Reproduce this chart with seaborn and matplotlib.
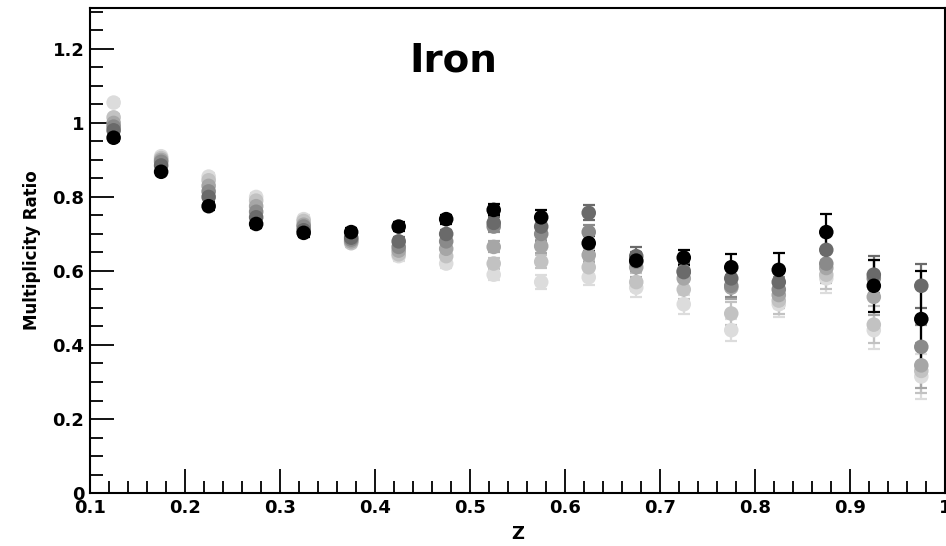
import numpy as np
import pandas as pd
import matplotlib
matplotlib.use("Agg")
import matplotlib.pyplot as plt
import seaborn as sns
from matplotlib.ticker import MultipleLocator, FixedLocator

z = [0.125, 0.175, 0.225, 0.275, 0.325, 0.375, 0.425, 0.475, 0.525,
     0.575, 0.625, 0.675, 0.725, 0.775, 0.825, 0.875, 0.925, 0.975]

series_names = ["s6", "s5", "s4", "s3", "s2", "s1"]
series_colors = ["#dcdcdc", "#c2c2c2", "#a6a6a6", "#8a8a8a", "#6a6a6a", "#000000"]

s6 = [1.055, 0.91, 0.855, 0.80, 0.74, 0.68, 0.64, 0.62, 0.59, 0.57, 0.583, 0.555, 0.51, 0.44, 0.51, 0.58, 0.44, 0.315]
s5 = [1.015, 0.905, 0.845, 0.79, 0.735, 0.675, 0.645, 0.64, 0.62, 0.625, 0.61, 0.57, 0.55, 0.485, 0.52, 0.59, 0.455, 0.33]
s4 = [1.00, 0.90, 0.83, 0.775, 0.725, 0.68, 0.655, 0.66, 0.665, 0.667, 0.643, 0.61, 0.58, 0.555, 0.535, 0.608, 0.53, 0.345]
s3 = [0.99, 0.895, 0.815, 0.76, 0.72, 0.685, 0.665, 0.68, 0.72, 0.70, 0.705, 0.625, 0.60, 0.56, 0.55, 0.62, 0.58, 0.395]
s2 = [0.98, 0.885, 0.80, 0.745, 0.71, 0.69, 0.68, 0.70, 0.73, 0.72, 0.757, 0.64, 0.597, 0.58, 0.57, 0.657, 0.59, 0.56]
s1 = [0.96, 0.868, 0.775, 0.727, 0.703, 0.705, 0.72, 0.74, 0.765, 0.745, 0.675, 0.628, 0.636, 0.61, 0.603, 0.705, 0.56, 0.47]

err_gray = [0.01, 0.01, 0.01, 0.01, 0.01, 0.01, 0.012, 0.012, 0.015, 0.018, 0.02, 0.025, 0.025, 0.03, 0.035, 0.04, 0.05, 0.06]
err_black = [0.01, 0.01, 0.01, 0.01, 0.01, 0.01, 0.012, 0.012, 0.015, 0.02, 0.02, 0.02, 0.02, 0.035, 0.045, 0.05, 0.07, 0.13]

xticks = [0.1, 0.2, 0.3, 0.4, 0.5, 0.6, 0.7, 0.8, 0.9, 1.0]
xticklabels = ["0.1", "0.2", "0.3", "0.4", "0.5", "0.6", "0.7", "0.8", "0.9", "1"]
yticks = [0, 0.2, 0.4, 0.6, 0.8, 1.0, 1.2]
yticklabels = ["0", "0.2", "0.4", "0.6", "0.8", "1", "1.2"]

values = [s6, s5, s4, s3, s2, s1]
errors = [err_gray, err_gray, err_gray, err_gray, err_gray, err_black]

rows = []
for name, vals, errs in zip(series_names, values, errors):
    for zz, v, e in zip(z, vals, errs):
        rows.append({"z": zz, "ratio": v, "err": e, "series": name})
df = pd.DataFrame(rows)

sns.set_theme(style="white")
plt.rcParams["font.family"] = ["DejaVu Sans"]
plt.rcParams["text.color"] = "black"
plt.rcParams["axes.labelcolor"] = "black"
plt.rcParams["xtick.color"] = "black"
plt.rcParams["ytick.color"] = "black"

fig = plt.figure(figsize=(9.46, 5.46), dpi=100)
ax = fig.add_axes([0.095, 0.097, 0.904, 0.888])

palette = dict(zip(series_names, series_colors))
for name in series_names:
    d = df[df["series"] == name]
    ax.errorbar(d["z"], d["ratio"], yerr=d["err"], fmt="none",
                ecolor=palette[name], elinewidth=1.6, capsize=4, capthick=1.6, zorder=2)
    sns.scatterplot(data=d, x="z", y="ratio", color=palette[name], s=110,
                    marker="o", edgecolor="none", ax=ax, zorder=3, legend=False)

ax.set_xlim(0.1, 1.0)
ax.set_ylim(0, 1.31)
ax.xaxis.set_major_locator(FixedLocator(xticks))
ax.set_xticklabels(xticklabels)
ax.yaxis.set_major_locator(FixedLocator(yticks))
ax.set_yticklabels(yticklabels)
ax.xaxis.set_minor_locator(MultipleLocator(0.02))
ax.yaxis.set_minor_locator(MultipleLocator(0.05))
ax.tick_params(axis="both", which="major", direction="in", length=17, width=1.3,
               labelsize=13, pad=4, color="black", labelcolor="black", bottom=True, left=True)
ax.tick_params(axis="both", which="minor", direction="in", length=9, width=1.3,
               color="black", bottom=True, left=True)
for lab in ax.get_xticklabels() + ax.get_yticklabels():
    lab.set_fontweight("bold")

for sp in ax.spines.values():
    sp.set_color("black")
    sp.set_linewidth(1.5)

ax.set_xlabel("Z", fontsize=13, fontweight="bold", labelpad=6, color="black")
ax.set_ylabel("Multiplicity Ratio", fontsize=12, fontweight="bold", labelpad=8, color="black")
ax.text(0.425, 0.893, "Iron", transform=ax.transAxes, ha="center", va="center",
        fontsize=28, fontweight="bold", color="black")

fig.savefig("out.png", dpi=100)
